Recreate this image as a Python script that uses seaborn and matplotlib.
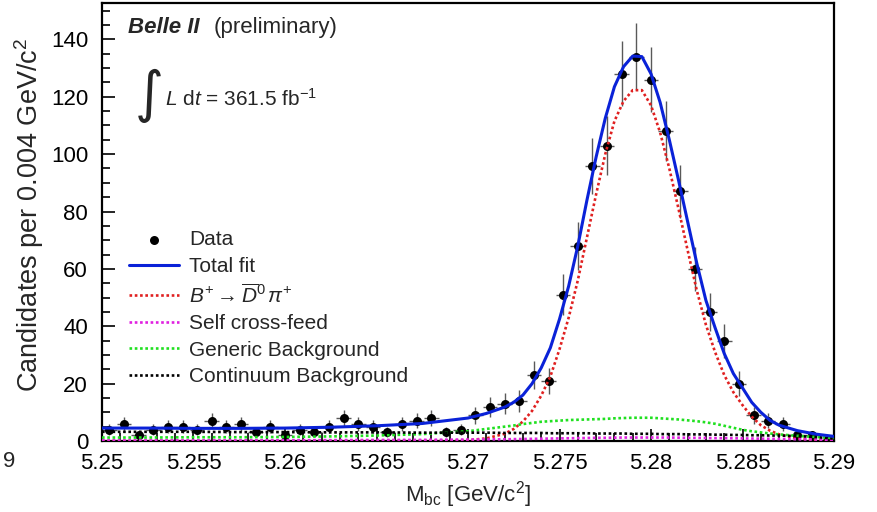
import numpy as np
import pandas as pd
import matplotlib
matplotlib.use("Agg")
import matplotlib.pyplot as plt
from matplotlib.ticker import MultipleLocator
import seaborn as sns

# data: 50 bins from 5.25 to 5.29
first_center = 5.2504
bin_width = 0.0008
counts = [4, 6, 2, 4, 5, 5, 4, 7, 5, 6, 3, 5, 2, 4, 3, 5, 8, 6, 5, 3,
          6, 7, 8, 3, 4, 9, 12, 13, 14, 23, 21, 51, 68, 96, 103, 128, 134, 126, 108, 87,
          60, 45, 35, 20, 9, 7, 6, 2, 2, 0]

# fit curves
m_fit = [5.2500, 5.2525, 5.2550, 5.2575, 5.2600, 5.2625, 5.2650, 5.2675, 5.2700, 5.2710,
         5.2720, 5.2725, 5.2730, 5.2735, 5.2740, 5.2745, 5.2750, 5.2755, 5.2760, 5.2765,
         5.2770, 5.2775, 5.2780, 5.2785, 5.2790, 5.2795, 5.2800, 5.2805, 5.2810, 5.2815,
         5.2820, 5.2825, 5.2830, 5.2835, 5.2840, 5.2845, 5.2850, 5.2855, 5.2860, 5.2865,
         5.2870, 5.2880, 5.2890, 5.2900]
total_fit = [4.5, 4.5, 4.4, 4.4, 4.5, 4.8, 5.3, 6.1, 8.0, 9.6,
             11.8, 13.5, 16.0, 20.0, 25.5, 32.5, 42.5, 54.0, 68.0, 84.0,
             99.0, 112.5, 123.5, 130.5, 134.2, 134.0, 128.0, 118.0, 105.0, 91.0,
             76.5, 62.0, 49.0, 39.5, 30.5, 23.5, 18.5, 13.5, 10.0, 7.2,
             5.5, 3.6, 2.4, 1.6]
signal = [0.0, 0.0, 0.0, 0.0, 0.02, 0.04, 0.07, 0.15, 0.3, 0.9,
          2.5, 4.2, 6.8, 10.5, 15.8, 22.5, 32.0, 43.0, 56.0, 71.0,
          86.0, 100.0, 111.5, 118.5, 122.3, 122.3, 117.0, 107.5, 95.0, 81.0,
          66.5, 52.5, 40.5, 31.0, 23.0, 17.0, 12.5, 8.5, 5.5, 3.6,
          2.3, 0.9, 0.4, 0.2]
self_cf = [0.2, 0.2, 0.2, 0.2, 0.25, 0.3, 0.35, 0.4, 0.5, 0.55,
           0.6, 0.65, 0.7, 0.75, 0.8, 0.85, 0.9, 0.95, 1.0, 1.05,
           1.1, 1.1, 1.15, 1.2, 1.2, 1.2, 1.2, 1.2, 1.2, 1.15,
           1.1, 1.1, 1.05, 1.0, 1.0, 0.95, 0.9, 0.85, 0.8, 0.75,
           0.7, 0.6, 0.5, 0.4]
generic_bkg = [1.2, 1.2, 1.3, 1.3, 1.4, 1.6, 1.9, 2.4, 3.4, 4.2,
               5.0, 5.4, 5.9, 6.3, 6.7, 6.9, 7.1, 7.3, 7.4, 7.5,
               7.6, 7.7, 7.9, 8.0, 8.1, 8.1, 8.1, 7.9, 7.7, 7.5,
               7.2, 6.9, 6.5, 6.0, 5.3, 4.6, 3.9, 3.4, 3.0, 2.6,
               2.3, 1.8, 1.4, 1.0]
continuum_bkg = [3.2, 3.2, 3.2, 3.1, 3.1, 3.0, 3.0, 2.9, 2.9, 2.9,
                 2.8, 2.8, 2.8, 2.8, 2.8, 2.7, 2.7, 2.7, 2.7, 2.7,
                 2.6, 2.6, 2.6, 2.6, 2.5, 2.5, 2.5, 2.4, 2.4, 2.4,
                 2.3, 2.3, 2.3, 2.2, 2.2, 2.1, 2.1, 2.0, 2.0, 1.9,
                 1.9, 1.7, 1.4, 0.8]

x_ticks = [5.25, 5.255, 5.26, 5.265, 5.27, 5.275, 5.28, 5.285, 5.29]
x_ticklabels = ["5.25", "5.255", "5.26", "5.265", "5.27", "5.275", "5.28", "5.285", "5.29"]

sns.set_theme(style="ticks")
plt.rcParams["font.family"] = ["Liberation Sans", "DejaVu Sans"]
plt.rcParams["mathtext.fontset"] = "custom"
plt.rcParams["mathtext.rm"] = "Liberation Sans"
plt.rcParams["mathtext.it"] = "Liberation Sans:italic"
plt.rcParams["mathtext.bf"] = "Liberation Sans:bold"
plt.rcParams["mathtext.fallback"] = "cm"

df = pd.DataFrame({"mbc": first_center + bin_width * np.arange(len(counts)),
                   "n": counts})
df["err"] = np.sqrt(df["n"])
fit = pd.DataFrame({"mbc": m_fit, "total": total_fit, "sig": signal, "scf": self_cf,
                    "gen": generic_bkg, "cont": continuum_bkg})

fig = plt.figure(figsize=(8.77, 5.12), dpi=100)
ax = fig.add_axes([0.1163, 0.1387, 0.8347, 0.8555])

ax.errorbar(df["mbc"], df["n"], yerr=df["err"], xerr=bin_width / 2, fmt="none",
            ecolor="0.35", elinewidth=1.0, zorder=2)
sns.scatterplot(data=df, x="mbc", y="n", ax=ax, color="black", s=42,
                edgecolor="black", linewidth=0, label="Data", zorder=2.5)

dot = (0, (1, 1))
sns.lineplot(data=fit, x="mbc", y="total", ax=ax, color="#0a22d8", lw=2.2,
             label="Total fit", zorder=4)
sns.lineplot(data=fit, x="mbc", y="sig", ax=ax, color="#e02020", lw=1.9, linestyle=dot,
             label=r"$B^{+} \rightarrow \overline{D}^{0}\, \pi^{+}$", zorder=3)
sns.lineplot(data=fit, x="mbc", y="scf", ax=ax, color="#e020e0", lw=1.9, linestyle=dot,
             label="Self cross-feed", zorder=3)
sns.lineplot(data=fit, x="mbc", y="gen", ax=ax, color="#20e020", lw=1.9, linestyle=dot,
             label="Generic Background", zorder=3)
sns.lineplot(data=fit, x="mbc", y="cont", ax=ax, color="black", lw=1.9, linestyle=dot,
             label="Continuum Background", zorder=3)

ax.set_xlim(5.25, 5.29)
ax.set_ylim(0, 152.7)
ax.set_xticks(x_ticks)
ax.set_xticklabels(x_ticklabels)
ax.xaxis.set_minor_locator(MultipleLocator(0.001))
ax.yaxis.set_major_locator(MultipleLocator(20))
ax.yaxis.set_minor_locator(MultipleLocator(5))
ax.tick_params(which="both", direction="in", labelsize=16, width=1.2, colors="black")
ax.tick_params(which="major", length=9)
ax.tick_params(which="minor", length=5.5)
ax.tick_params(axis="x", which="major", pad=9)
ax.tick_params(axis="y", which="major", pad=10)
for sp in ax.spines.values():
    sp.set_visible(True)
    sp.set_linewidth(1.6)
    sp.set_color("black")

ax.set_xlabel(r"M$_{\rm bc}$ [GeV/c$^{2}$]", fontsize=16, labelpad=3)
ax.set_ylabel(r"Candidates per 0.004 GeV/c$^{2}$", fontsize=19.5)
ax.yaxis.set_label_coords(-0.077, 0.515)

ax.text(0.0355, 0.931, "Belle II", transform=ax.transAxes, fontsize=16,
        fontweight="bold", fontstyle="italic", va="baseline")
ax.text(0.153, 0.931, "(preliminary)", transform=ax.transAxes, fontsize=16, va="baseline")
ax.text(0.064, 0.788, "\u222b", transform=ax.transAxes, fontsize=40, ha="center",
        va="center", family=["DejaVu Sans"])
ax.text(0.086, 0.765, r"$L$ d$t$ = 361.5 fb$^{-1}$", transform=ax.transAxes,
        fontsize=15, va="baseline")

handles, labels = ax.get_legend_handles_labels()
ax.legend(handles, labels, loc="upper left", bbox_to_anchor=(0.025, 0.5),
          frameon=False, fontsize=15, handlelength=2.4, handletextpad=0.5,
          labelspacing=0.36, borderaxespad=0)

fig.text(0.003, 0.098, "9", fontsize=16, va="center", ha="left")

fig.savefig("out.png", dpi=100)
